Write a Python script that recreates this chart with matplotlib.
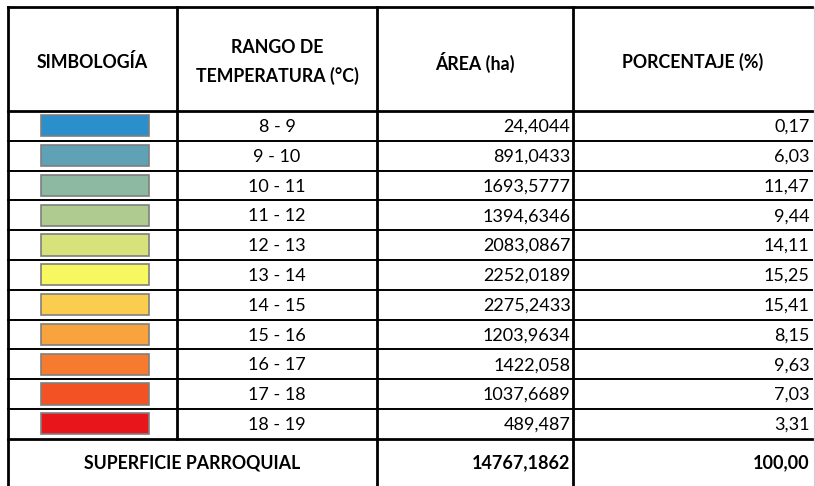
import matplotlib.pyplot as plt
from matplotlib.patches import Rectangle

plt.rcParams['font.family'] = ['Lato', 'DejaVu Sans']

HEADERS = ["SIMBOLOGÍA", "RANGO DE\nTEMPERATURA (°C)", "ÁREA (ha)", "PORCENTAJE (%)"]
RANGOS = ["8 - 9", "9 - 10", "10 - 11", "11 - 12", "12 - 13", "13 - 14",
          "14 - 15", "15 - 16", "16 - 17", "17 - 18", "18 - 19"]
AREAS = ["24,4044", "891,0433", "1693,5777", "1394,6346", "2083,0867", "2252,0189",
         "2275,2433", "1203,9634", "1422,058", "1037,6689", "489,487"]
PORCENTAJES = ["0,17", "6,03", "11,47", "9,44", "14,11", "15,25",
               "15,41", "8,15", "9,63", "7,03", "3,31"]
COLORES = ["#2B8FCB", "#5FA2B5", "#8DB8A2", "#AFCB8F", "#D8E27A", "#F7F760",
           "#FACD4F", "#F9A33E", "#F77B2E", "#F25224", "#E8151A"]
TOTAL_LABEL = "SUPERFICIE PARROQUIAL"
TOTAL_AREA = "14767,1862"
TOTAL_PCT = "100,00"

W, H = 815, 486
# column edges and row geometry (pixels)
cols = [8, 177, 377, 573, 812]
top, head_bot, row_h = 7, 111, 29.8
n = len(RANGOS)
body_bot = head_bot + n * row_h
bottom = H + 5  # table is cut off at the bottom of the image

fig = plt.figure(figsize=(W / 100, H / 100), dpi=100)
ax = fig.add_axes([0, 0, 1, 1])
ax.set_xlim(0, W)
ax.set_ylim(H, 0)
ax.axis('off')

lw_thick, lw_thin = 2.0, 1.4

# vertical lines (symbol/range columns merge in the total row)
for i, x in enumerate(cols[:-1]):
    y_end = body_bot if i == 1 else bottom
    ax.plot([x, x], [top, y_end], color='black', lw=lw_thick)
# right edge is only a faint grid line
ax.plot([cols[-1] + 1.5, cols[-1] + 1.5], [top, bottom], color='#d0d0d0', lw=0.8)
# horizontal lines
ax.plot([cols[0], cols[-1]], [top, top], color='black', lw=lw_thick)
ax.plot([cols[0], cols[-1]], [head_bot, head_bot], color='black', lw=lw_thick)
for i in range(1, n):
    y = head_bot + i * row_h
    ax.plot([cols[0], cols[-1]], [y, y], color='black', lw=lw_thin)
ax.plot([cols[0], cols[-1]], [body_bot, body_bot], color='black', lw=lw_thick)

# headers
hy = (top + head_bot) / 2 + 3
for i, h in enumerate(HEADERS):
    ax.text((cols[i] + cols[i + 1]) / 2, hy, h, ha='center', va='center',
            fontsize=12.8, fontweight='bold', linespacing=1.75)

# body rows
for i in range(n):
    y0 = head_bot + i * row_h
    yc = y0 + row_h / 2
    ax.add_patch(Rectangle((41, y0 + 4.2), 108, row_h - 8.6,
                           facecolor=COLORES[i], edgecolor='#7f7f7f', lw=1.2))
    ax.text((cols[1] + cols[2]) / 2, yc + 1, RANGOS[i], ha='center', va='center', fontsize=13)
    ax.text(cols[3] - 2.5, yc + 1, AREAS[i], ha='right', va='center', fontsize=13)
    ax.text(cols[4] - 2.5, yc + 1, PORCENTAJES[i], ha='right', va='center', fontsize=13)

# total row
ty = 463
ax.text((cols[0] + cols[2]) / 2, ty, TOTAL_LABEL, ha='center', va='center',
        fontsize=12.8, fontweight='bold')
ax.text(cols[3] - 2.5, ty, TOTAL_AREA, ha='right', va='center', fontsize=13, fontweight='bold')
ax.text(cols[4] - 2.5, ty, TOTAL_PCT, ha='right', va='center', fontsize=13, fontweight='bold')

fig.savefig("out.png", dpi=100, facecolor='white')
